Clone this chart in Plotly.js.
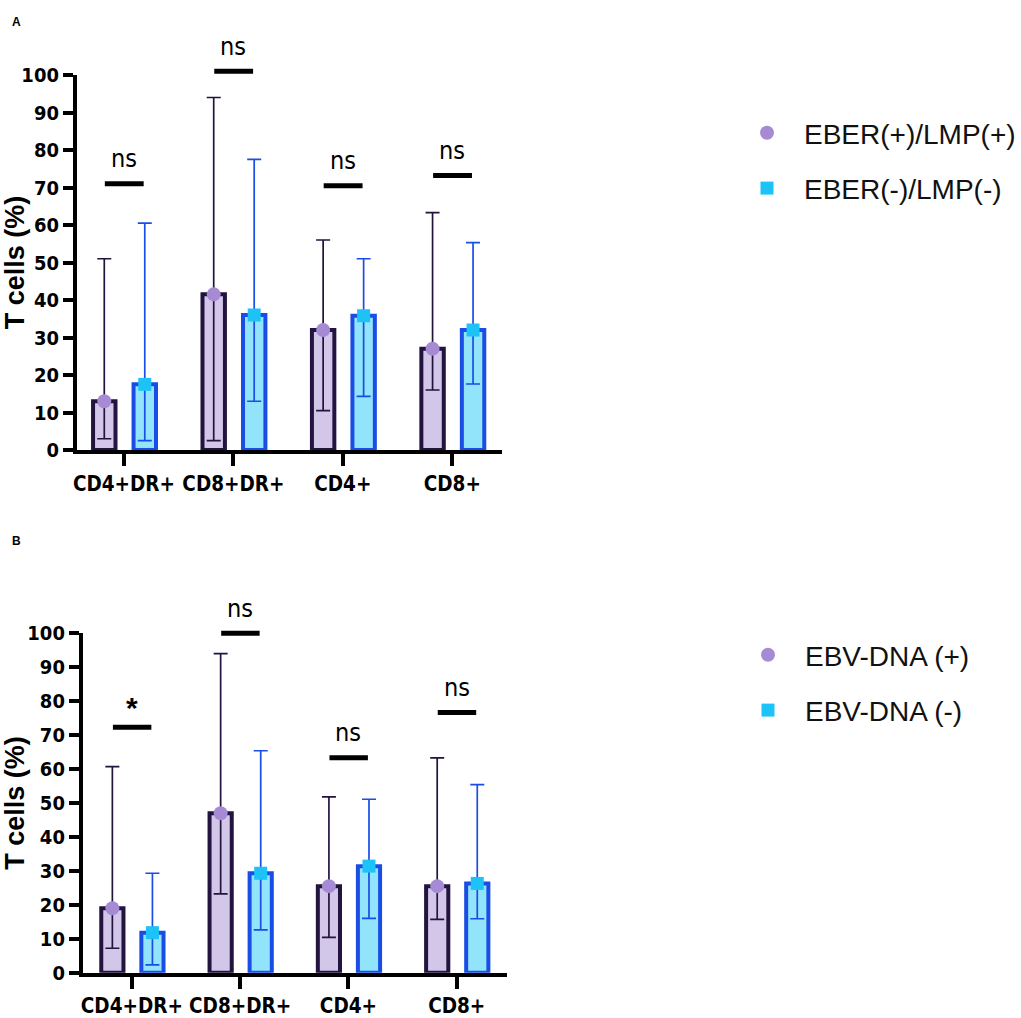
<!DOCTYPE html>
<html>
<head>
<meta charset="utf-8">
<script src="https://cdn.plot.ly/plotly-3.0.1.min.js"></script>
<style>html,body{margin:0;padding:0;background:#fff;}#chart{width:1021px;height:1018px;}</style>
</head>
<body>
<div id="chart"></div>
<script>
// ---------- data ----------
const categories = ['CD4+DR+', 'CD8+DR+', 'CD4+', 'CD8+'];

// Panel A: EBER/LMP
const seriesA1Name = 'EBER(+)/LMP(+)';
const seriesA1Mean = [13, 41.5, 32, 27];
const seriesA1High = [51, 94, 56, 63.3];
const seriesA1Low  = [3, 2.5, 10.5, 16];
const seriesA2Name = 'EBER(-)/LMP(-)';
const seriesA2Mean = [17.5, 36, 35.8, 32];
const seriesA2High = [60.5, 77.5, 51, 55.3];
const seriesA2Low  = [2.5, 13, 14.3, 17.6];
const sigLevelA = [71, 101, 70.5, 73.2];
const sigLabelA = ['ns', 'ns', 'ns', 'ns'];

// Panel B: EBV-DNA
const seriesB1Name = 'EBV-DNA (+)';
const seriesB1Mean = [19, 47, 25.5, 25.5];
const seriesB1High = [60.7, 94, 51.8, 63.3];
const seriesB1Low  = [7.2, 23.2, 10.4, 15.7];
const seriesB2Name = 'EBV-DNA (-)';
const seriesB2Mean = [11.8, 29.3, 31.4, 26.3];
const seriesB2High = [29.3, 65.4, 51.1, 55.4];
const seriesB2Low  = [2.3, 12.6, 16, 15.9];
const sigLevelB = [72.3, 100, 63.3, 76.7];
const sigLabelB = ['*', 'ns', 'ns', 'ns'];

const yTicks = [0, 10, 20, 30, 40, 50, 60, 70, 80, 90, 100];

// ---------- styles ----------
const W = 1021, H = 1018;
const Y_MAX = 100;
const OFF1 = -0.18, OFF2 = 0.19, BAR_W = 0.205;
const C1 = {fill: '#d2c7e9', edge: '#23133f', marker: '#a68bd4'};
const C2 = {fill: '#92e4fb', edge: '#1a4ce6', marker: '#1dc3f7'};
const cond = '"DejaVu Sans Condensed", "Liberation Sans", Arial, sans-serif';
const sans = '"Liberation Sans", Arial, sans-serif';

const idx = categories.map((_, i) => i);

function panelTraces(xa, ya, legendId, s1, s2) {
  const tr = [];
  [s1, s2].forEach((s, k) => {
    const off = k === 0 ? OFF1 : OFF2;
    const c = k === 0 ? C1 : C2;
    tr.push({
      type: 'bar', x: idx.map(i => i + off), y: s.mean, width: BAR_W,
      xaxis: xa, yaxis: ya, showlegend: false, hoverinfo: 'skip',
      marker: {color: c.fill, line: {color: c.edge, width: 4}}
    });
  });
  [s1, s2].forEach((s, k) => {
    const off = k === 0 ? OFF1 : OFF2;
    const c = k === 0 ? C1 : C2;
    tr.push({
      type: 'scatter', mode: 'markers', name: s.name,
      x: idx.map(i => i + off), y: s.mean,
      xaxis: xa, yaxis: ya, legend: legendId, legendgroup: legendId + k,
      cliponaxis: false,
      marker: {color: c.marker, size: k === 0 ? 14 : 13, symbol: k === 0 ? 'circle' : 'square'},
      error_y: {
        type: 'data', symmetric: false,
        array: s.high.map((h, i) => h - s.mean[i]),
        arrayminus: s.low.map((l, i) => s.mean[i] - l),
        color: c.edge, thickness: 1.7, width: 7
      }
    });
  });
  return tr;
}

const data = [
  ...panelTraces('x', 'y', 'legend',
    {name: seriesA1Name, mean: seriesA1Mean, high: seriesA1High, low: seriesA1Low},
    {name: seriesA2Name, mean: seriesA2Mean, high: seriesA2High, low: seriesA2Low}),
  ...panelTraces('x2', 'y2', 'legend2',
    {name: seriesB1Name, mean: seriesB1Mean, high: seriesB1High, low: seriesB1Low},
    {name: seriesB2Name, mean: seriesB2Mean, high: seriesB2High, low: seriesB2Low})
];

function xAxis(domain, range) {
  return {
    domain: domain, range: range, tickmode: 'array', tickvals: idx, ticktext: categories,
    ticks: 'outside', ticklen: 12, tickwidth: 4, tickcolor: '#000',
    showline: true, linewidth: 4, linecolor: '#000', showgrid: false, zeroline: false,
    tickfont: {family: cond, size: 20.5, color: '#000', weight: 'bold'},
    fixedrange: true
  };
}
function yAxis(domain, anchor) {
  return {
    domain: domain, range: [0, Y_MAX], anchor: anchor, tickmode: 'array', tickvals: yTicks,
    ticks: 'outside', ticklen: 10, tickwidth: 4, tickcolor: '#000',
    showline: true, linewidth: 4, linecolor: '#000', showgrid: false, zeroline: false,
    tickfont: {family: cond, size: 20, color: '#000', weight: 'bold'},
    title: {text: 'T cells (%)', font: {family: sans, size: 27, color: '#000', weight: 'bold'}, standoff: 7},
    fixedrange: true
  };
}

const shapes = [];
const annotations = [];
function addSig(xa, ya, levels, labels) {
  levels.forEach((lv, i) => {
    shapes.push({
      type: 'line', xref: xa, yref: ya + ' domain',
      x0: i - 0.175, x1: i + 0.18, y0: lv / Y_MAX, y1: lv / Y_MAX,
      line: {color: '#000', width: 5}
    });
    const star = labels[i] === '*';
    annotations.push({
      xref: xa, yref: ya + ' domain', x: i + 0.0, y: lv / Y_MAX,
      text: labels[i], showarrow: false, yanchor: 'middle', yshift: star ? 20 : 25,
      font: {family: star ? sans : cond, size: star ? 30 : 25, color: '#000', weight: star ? 'bold' : 'normal'}
    });
  });
}
addSig('x', 'y', sigLevelA, sigLabelA);
addSig('x2', 'y2', sigLevelB, sigLabelB);

annotations.push({xref: 'paper', yref: 'paper', x: 10 / W, y: 1 - 22 / H, text: 'A', showarrow: false,
  xanchor: 'left', yanchor: 'middle', font: {family: sans, size: 12, color: '#000', weight: 'bold'}});
annotations.push({xref: 'paper', yref: 'paper', x: 10 / W, y: 1 - 541 / H, text: 'B', showarrow: false,
  xanchor: 'left', yanchor: 'middle', font: {family: sans, size: 12, color: '#000', weight: 'bold'}});

const legendStyle = {
  xanchor: 'left', yanchor: 'top', bgcolor: 'rgba(0,0,0,0)',
  font: {family: sans, size: 28, color: '#111'}, traceorder: 'grouped', tracegroupgap: 16,
  itemwidth: 64
};

const layout = {
  width: W, height: H,
  margin: {l: 0, r: 0, t: 0, b: 0},
  paper_bgcolor: '#fff', plot_bgcolor: 'rgba(0,0,0,0)',
  barmode: 'overlay',
  showlegend: true,
  xaxis: xAxis([77 / W, 502 / W], [-0.43, 3.45]),
  yaxis: yAxis([1 - 450 / H, 1 - 75 / H], 'x'),
  xaxis2: Object.assign(xAxis([83 / W, 507 / W], [-0.452, 3.46]), {anchor: 'y2'}),
  yaxis2: yAxis([1 - 972.7 / H, 1 - 633.3 / H], 'x2'),
  legend: Object.assign({x: 731 / W, y: 1 - 108 / H}, legendStyle),
  legend2: Object.assign({x: 731 / W, y: 1 - 630 / H}, legendStyle),
  shapes: shapes,
  annotations: annotations
};

Plotly.newPlot('chart', data, layout, {displayModeBar: false, staticPlot: true});
</script>
</body>
</html>
